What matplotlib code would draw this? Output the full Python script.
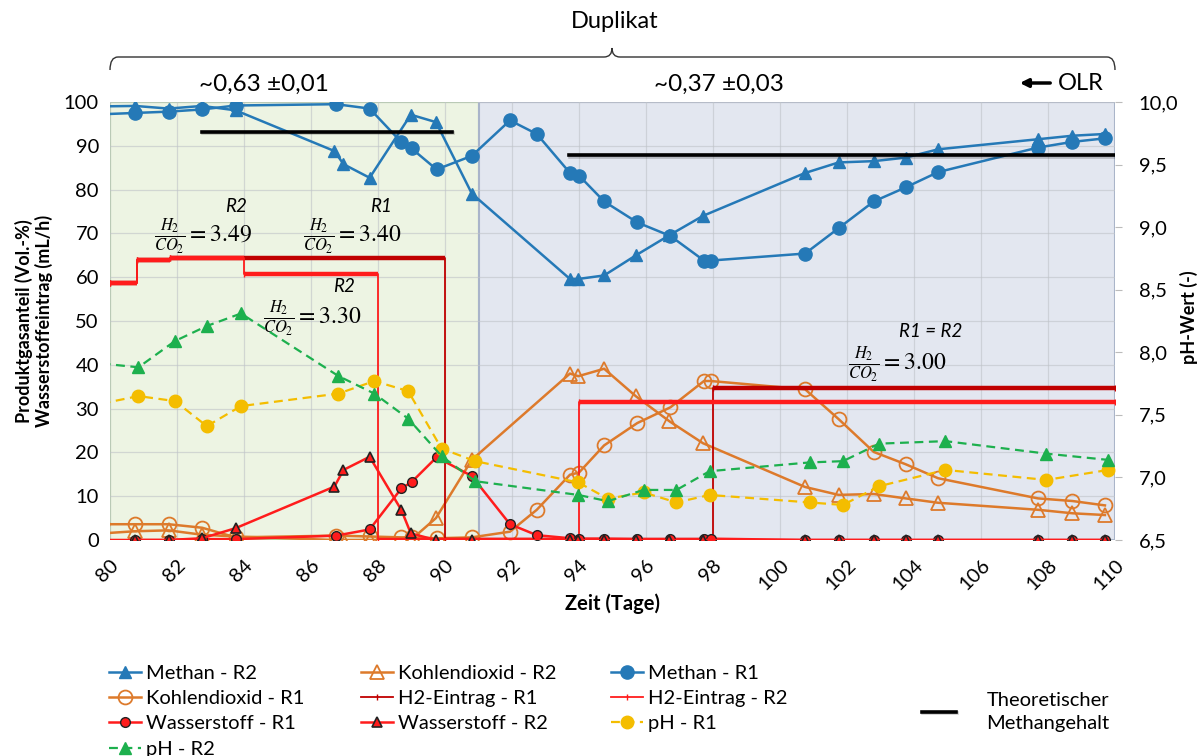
import numpy as np
import matplotlib
matplotlib.use("Agg")
import matplotlib.pyplot as plt
import matplotlib.patheffects as pe
from matplotlib.path import Path
from matplotlib.patches import PathPatch, FancyArrowPatch

plt.rcParams['font.family'] = ['Lato', 'DejaVu Sans']
plt.rcParams['mathtext.fontset'] = 'stix'

# sampling days (Tage)
gas_days_r1 = [79.75, 80.75, 81.75, 82.75, 83.75, 86.75, 87.75, 88.7, 89.0, 89.75, 90.8, 91.94, 92.74,
               93.73, 94.0, 94.75, 95.74, 96.73, 97.73, 97.93, 100.75, 101.75, 102.8, 103.75, 104.72,
               107.7, 108.73, 109.7]
gas_days_r2 = [79.75, 80.75, 81.75, 82.75, 83.75, 86.7, 86.97, 87.75, 88.98, 89.73, 90.8, 93.73, 93.98,
               94.75, 95.7, 96.7, 97.7, 100.75, 101.75, 102.8, 103.75, 104.72, 107.7, 108.73, 109.7]
h2_days_r2 = [80.75, 81.75, 82.75, 83.75, 86.7, 86.97, 87.75, 88.7, 88.98, 89.73, 90.8, 93.73, 93.98,
              94.75, 95.7, 96.7, 97.7, 100.75, 101.75, 102.8, 103.75, 104.72, 107.7, 108.73, 109.7]
ph_days = [79.75, 80.85, 81.94, 82.89, 83.91, 86.82, 87.89, 88.9, 89.9, 90.9, 93.98, 94.86, 95.93,
           96.91, 97.9, 100.89, 101.88, 102.96, 104.94, 107.95, 109.8]

# Produktgas (Vol.-%)
methan_r1 = [97.2, 97.5, 97.8, 98.3, 99.2, 99.5, 98.5, 90.8, 89.4, 84.6, 87.7, 95.8, 92.7, 83.8, 83.2,
             77.3, 72.5, 69.4, 63.8, 63.8, 65.4, 71.2, 77.3, 80.5, 84.0, 89.6, 90.9, 91.7]
co2_r1 = [3.6, 3.6, 3.6, 2.8, 0.6, 1.0, 0.8, 0.6, 0.6, 0.4, 0.6, 1.9, 6.9, 14.9, 15.4, 21.6, 26.7,
          30.3, 36.3, 36.3, 34.4, 27.6, 20.1, 17.3, 14.1, 9.5, 8.9, 7.9]
h2_r1 = [0.0, 0.0, 0.0, 0.2, 0.2, 1.0, 2.4, 11.8, 13.2, 18.9, 14.6, 3.6, 1.1, 0.4, 0.3, 0.3, 0.2,
         0.2, 0.2, 0.3, 0.0, 0.0, 0.0, 0.0, 0.0, 0.0, 0.0, 0.0]
methan_r2 = [99.0, 99.1, 98.5, 99.1, 98.1, 88.8, 85.8, 82.7, 97.1, 95.4, 79.1, 59.6, 59.6, 60.4, 65.0,
             69.6, 74.0, 83.8, 86.2, 86.5, 87.3, 89.2, 91.5, 92.3, 92.7]
co2_r2 = [1.5, 2.0, 2.2, 1.2, 0.8, 0.0, 0.0, 0.0, 0.0, 5.0, 18.3, 38.0, 37.4, 39.1, 32.8, 27.1, 22.1,
          12.1, 10.3, 10.5, 9.5, 8.5, 6.9, 6.1, 5.7]
h2_r2 = [0.0, 0.0, 0.4, 2.7, 12.2, 16.0, 19.0, 6.8, 1.5, 0.0, 0.0, 0.0, 0.0, 0.0, 0.0, 0.0, 0.0,
         0.0, 0.0, 0.0, 0.0, 0.0, 0.0, 0.0, 0.0]

# pH
ph_r1 = [7.59, 7.65, 7.61, 7.41, 7.57, 7.67, 7.77, 7.69, 7.23, 7.13, 6.96, 6.83, 6.88, 6.80, 6.86,
         6.80, 6.78, 6.93, 7.06, 6.98, 7.06]
ph_r2 = [7.91, 7.88, 8.09, 8.21, 8.31, 7.81, 7.67, 7.47, 7.17, 6.97, 6.86, 6.81, 6.90, 6.90, 7.05,
         7.12, 7.13, 7.27, 7.29, 7.19, 7.14]

# H2-Eintrag (mL/h), step changes
h2in_days_r1 = [80.0, 80.8, 81.8, 90.0, 98.0, 110.0]
h2in_r1 = [58.6, 64.0, 64.3, 0.0, 34.7, 34.7]
h2in_days_r2 = [80.0, 80.8, 81.8, 84.0, 88.0, 94.0, 110.0]
h2in_r2 = [58.6, 64.0, 64.3, 60.7, 0.0, 31.5, 31.5]

# theoretischer Methangehalt
theo1_days, theo1 = [82.75, 90.2], [93.2, 93.2]
theo2_days, theo2 = [93.7, 110.0], [87.8, 87.8]

blue = '#2579B7'
orange = '#DD7A2B'
red = '#FF1C1C'
dred = '#C00000'
yellow = '#F4BD00'
green = '#1DB04E'

W, H = 1204, 756
fig = plt.figure(figsize=(W / 100, H / 100), dpi=100)
ax = fig.add_axes([110 / W, 216 / H, 1005 / W, 438 / H])
ax2 = ax.twinx()

ax.axvspan(80, 91, facecolor='#EDF4E3', edgecolor='#B5D69D', lw=1.5, zorder=0)
ax.axvspan(91, 110, facecolor='#E3E7F0', edgecolor='#A9B4CA', lw=1.5, zorder=0)
ax.set_axisbelow(True)
ax.grid(True, color='#BFC3C8', lw=0.9, alpha=0.6)

h_m2, = ax.plot(gas_days_r2, methan_r2, color=blue, lw=1.8, marker='^', ms=9, label='Methan - R2', zorder=3)
h_c2, = ax.plot(gas_days_r2, co2_r2, color=orange, lw=1.8, marker='^', ms=10, mfc='none', mew=1.3,
                label='Kohlendioxid - R2', zorder=3)
h_m1, = ax.plot(gas_days_r1, methan_r1, color=blue, lw=1.8, marker='o', ms=9.5, label='Methan - R1', zorder=3)
h_c1, = ax.plot(gas_days_r1, co2_r1, color=orange, lw=1.8, marker='o', ms=10, mfc='none', mew=1.3,
                label='Kohlendioxid - R1', zorder=3)

h_e1, = ax.plot(h2in_days_r1, h2in_r1, drawstyle='steps-post', color=dred, lw=1.3, marker='|', ms=5,
                label='H2-Eintrag - R1', zorder=3)
ax.hlines(h2in_r1[:-1], h2in_days_r1[:-1], h2in_days_r1[1:], color=dred, lw=3.2, zorder=3)
h_e2, = ax.plot(h2in_days_r2, h2in_r2, drawstyle='steps-post', color=red, lw=1.3, marker='|', ms=5,
                label='H2-Eintrag - R2', zorder=3)
ax.hlines(h2in_r2[:-1], h2in_days_r2[:-1], h2in_days_r2[1:], color=red, lw=3.2, zorder=3)

h_w1, = ax.plot(gas_days_r1, h2_r1, color=red, lw=1.8, marker='o', ms=7, mfc=red, mec='#222222', mew=1.0,
                label='Wasserstoff - R1', zorder=4)
h_w2, = ax.plot(h2_days_r2, h2_r2, color=red, lw=1.8, marker='^', ms=7, mfc=red, mec='#222222', mew=1.2,
                label='Wasserstoff - R2', zorder=4)

shadow = [pe.SimpleLineShadow(offset=(0.6, -1.0), alpha=0.2), pe.Normal()]
h_t, = ax.plot(theo1_days, theo1, color='black', lw=2.6, path_effects=shadow, zorder=5,
               label='Theoretischer\nMethangehalt')
ax.plot(theo2_days, theo2, color='black', lw=2.6, path_effects=shadow, zorder=5)

h_p1, = ax2.plot(ph_days, ph_r1, color=yellow, lw=1.6, dashes=(4, 2.5), marker='o', ms=9, label='pH - R1')
h_p2, = ax2.plot(ph_days, ph_r2, color=green, lw=1.6, dashes=(4, 2.5), marker='^', ms=9, label='pH - R2')

ax.set_xlim(80, 110)
ax.set_ylim(0, 100)
ax2.set_ylim(6.5, 10.0)
ax.set_xticks(np.arange(80, 111, 2))
ax.set_yticks(np.arange(0, 101, 10))
ax2.set_yticks(np.arange(6.5, 10.01, 0.5))
ax2.set_yticklabels([f'{v:.1f}'.replace('.', ',') for v in np.arange(6.5, 10.01, 0.5)])
ax.set_xticklabels([str(v) for v in range(80, 111, 2)], rotation=45, ha='right', va='top',
                   rotation_mode='anchor')
for s in list(ax.spines.values()) + list(ax2.spines.values()):
    s.set_visible(False)
ax.tick_params(axis='both', length=0, labelsize=14.5, pad=8)
ax.tick_params(axis='x', pad=12)
ax2.tick_params(axis='y', length=5, color='#BBBBBB', labelsize=14.5, pad=12)

ax.set_xlabel('Zeit (Tage)', fontsize=14.5, fontweight='bold', labelpad=0)
ax.set_ylabel('Produktgasanteil (Vol.-%)\nWasserstoffeintrag (mL/h)', fontsize=13, fontweight='bold',
              labelpad=8, linespacing=1.1)


def fp(px, py):
    return (px / W, 1 - py / H)


fig.text(*fp(1189, 317), 'pH-Wert (-)', fontsize=13, fontweight='bold', rotation=90,
         ha='center', va='center')

# ratio annotations
ax.text(83.76, 76.2, 'R2', style='italic', fontsize=13.5, ha='center', va='center')
ax.text(82.78, 69.4, r'$\frac{H_2}{CO_2}=3.49$', fontsize=17, ha='center', va='center')
ax.text(88.1, 76.2, 'R1', style='italic', fontsize=13.5, ha='center', va='center')
ax.text(87.22, 69.4, r'$\frac{H_2}{CO_2}=3.40$', fontsize=17, ha='center', va='center')
ax.text(87.0, 57.9, 'R2', style='italic', fontsize=13.5, ha='center', va='center', zorder=6)
ax.text(86.03, 50.6, r'$\frac{H_2}{CO_2}=3.30$', fontsize=17, ha='center', va='center')
ax.text(104.5, 47.6, 'R1 = R2', style='italic', fontsize=13.5, ha='center', va='center')
ax.text(103.5, 40.2, r'$\frac{H_2}{CO_2}=3.00$', fontsize=17, ha='center', va='center')

# brace above the plot
verts = [fp(110, 70), fp(110, 57), fp(118, 57), fp(604, 57), fp(612, 57), fp(612, 48),
         fp(612, 57), fp(620, 57), fp(1107, 57), fp(1115, 57), fp(1115, 70)]
codes = [Path.MOVETO, Path.CURVE3, Path.CURVE3, Path.LINETO, Path.CURVE3, Path.CURVE3,
         Path.CURVE3, Path.CURVE3, Path.LINETO, Path.CURVE3, Path.CURVE3]
fig.patches.append(PathPatch(Path(verts, codes), transform=fig.transFigure, fill=False,
                             edgecolor='#333333', lw=1.0))

fig.text(*fp(615, 22), 'Duplikat', fontsize=17, ha='center', va='center')
fig.text(*fp(264, 84), '~0,63 ±0,01', fontsize=17.5, ha='center', va='center')
fig.text(*fp(719, 84), '~0,37 ±0,03', fontsize=17.5, ha='center', va='center')
fig.text(*fp(1081, 84), 'OLR', fontsize=17, ha='center', va='center')
fig.patches.append(FancyArrowPatch(fp(1053, 83), fp(1017, 83), transform=fig.transFigure,
                                   arrowstyle='-|>', mutation_scale=12, lw=2.5, color='black'))

# legends
cols = [[h_m2, h_c1, h_w1, h_p2], [h_c2, h_e1, h_w2], [h_m1, h_e2, h_p1]]
xs = [109, 361, 611]
for hs, x in zip(cols, xs):
    fig.legend(handles=hs, labels=[h.get_label() for h in hs], loc='upper left', bbox_to_anchor=fp(x, 665),
               frameon=False, fontsize=14.5, handlelength=1.6, handletextpad=0.25, labelspacing=0.4,
               borderaxespad=0, borderpad=0)
fig.legend(handles=[h_t], labels=['Theoretischer\nMethangehalt'], loc='center left',
           bbox_to_anchor=fp(922, 712), frameon=False, fontsize=14.5, handlelength=1.7, handletextpad=1.5,
           borderaxespad=0, borderpad=0)
for t in fig.legends[-1].get_texts():
    t.set_linespacing(1.5)

fig.savefig('out.png', dpi=100)
